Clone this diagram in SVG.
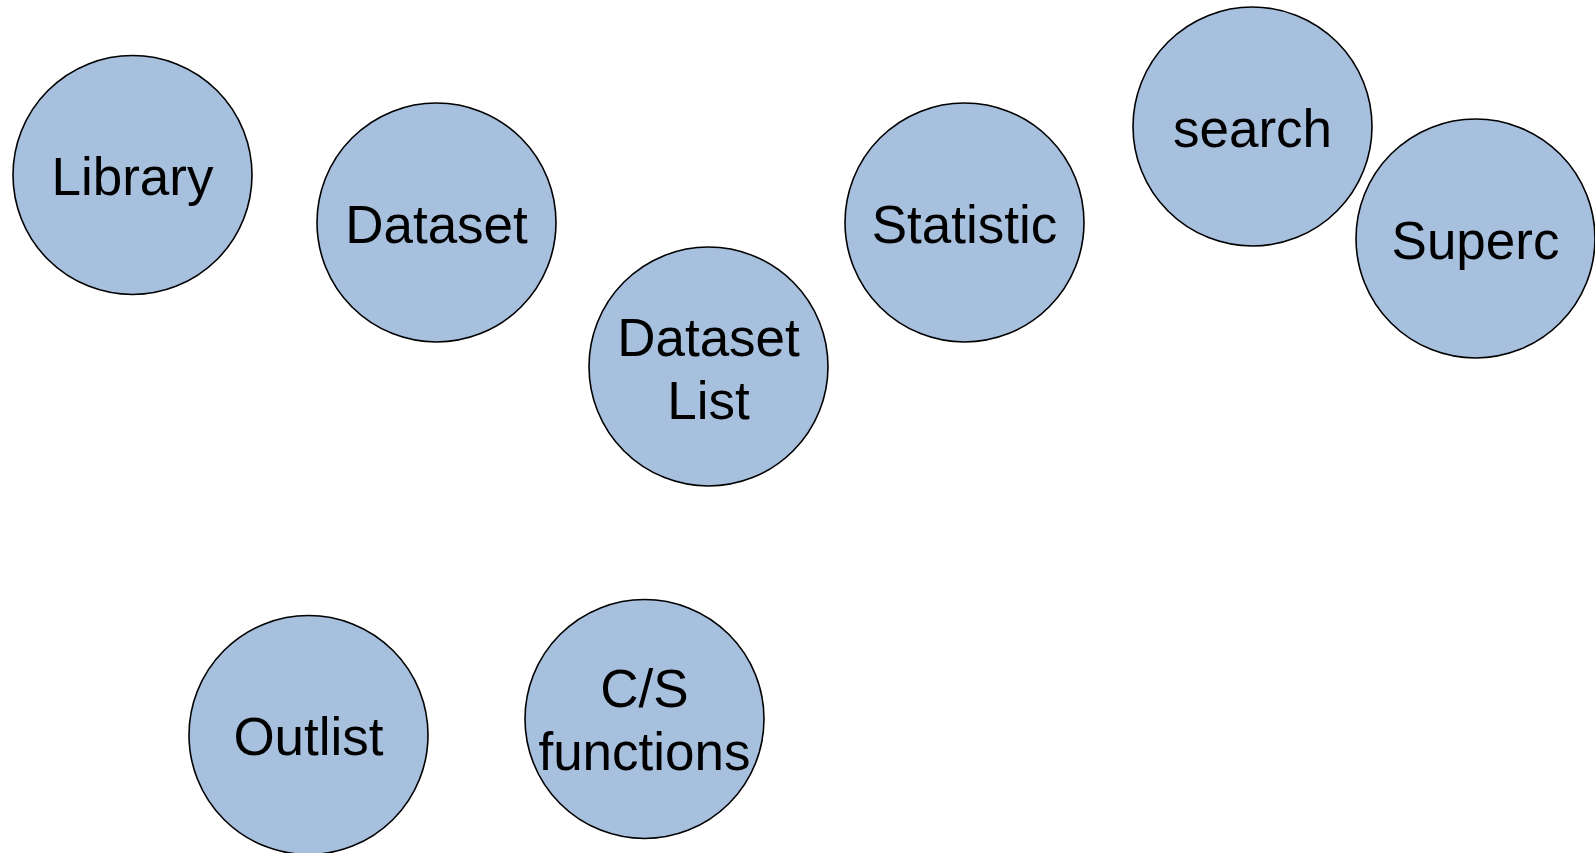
<svg xmlns="http://www.w3.org/2000/svg" width="1595" height="853" viewBox="0 0 1595 853">
<style>
.n{fill:#a7c0de;stroke:#000;stroke-width:1.6}
.t{font-family:"Liberation Sans",Arial,sans-serif;font-size:53px;fill:#000;text-anchor:middle}
</style>
<rect width="1595" height="853" fill="#fff"/>
<g id="connectors"></g>
<g id="library"><circle class="n" cx="132.5" cy="175" r="119.5"/><text class="t" x="132.5" y="195">Library</text></g>
<g id="dataset"><circle class="n" cx="436.5" cy="222.5" r="119.5"/><text class="t" x="436.5" y="243">Dataset</text></g>
<g id="dataset-list"><circle class="n" cx="708.5" cy="366.5" r="119.5"/><text class="t" x="708.5" y="356">Dataset</text><text class="t" x="708.5" y="419">List</text></g>
<g id="statistic"><circle class="n" cx="964.5" cy="222.5" r="119.5"/><text class="t" x="964.5" y="243">Statistic</text></g>
<g id="search"><circle class="n" cx="1252.5" cy="126.5" r="119.5"/><text class="t" x="1252.5" y="147">search</text></g>
<g id="superc"><circle class="n" cx="1475.5" cy="238.5" r="119.5"/><text class="t" x="1475.5" y="259">Superc</text></g>
<g id="outlist"><circle class="n" cx="308.5" cy="735" r="119.5"/><text class="t" x="308.5" y="755">Outlist</text></g>
<g id="cs-functions"><circle class="n" cx="644.5" cy="719" r="119.5"/><text class="t" x="644.5" y="707">C/S</text><text class="t" x="644.5" y="770">functions</text></g>
</svg>
